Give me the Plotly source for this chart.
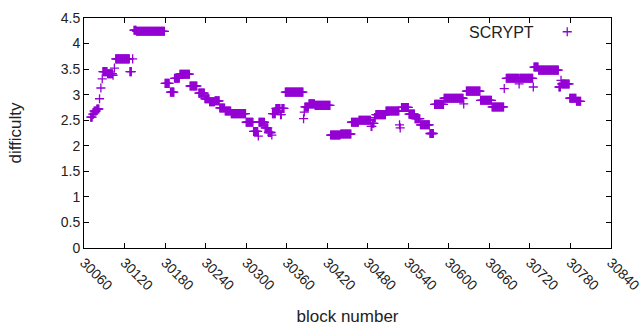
import plotly.graph_objects as go

# Runs of constant difficulty: first block, last block, difficulty
run_start = [30070, 30073, 30075, 30079, 30083, 30085, 30087, 30088, 30095, 30103,
             30105, 30107, 30128, 30132, 30134, 30138, 30180, 30188, 30194, 30202,
             30217, 30230, 30239, 30246, 30254, 30261, 30269, 30278, 30300, 30311,
             30318, 30319, 30328, 30333, 30338, 30339, 30344, 30351, 30353, 30358,
             30385, 30386, 30387, 30393, 30402, 30425, 30440, 30456, 30467, 30485,
             30487, 30490, 30492, 30507, 30527, 30528, 30530, 30541, 30550, 30558,
             30572, 30579, 30593, 30622, 30626, 30647, 30664, 30682, 30685, 30704,
             30705, 30725, 30726, 30733, 30763, 30766, 30767, 30779, 30789]
run_end = [30072, 30074, 30078, 30082, 30083, 30085, 30087, 30094, 30102, 30103,
           30105, 30127, 30130, 30132, 30137, 30179, 30186, 30193, 30201, 30216,
           30227, 30238, 30245, 30253, 30260, 30268, 30277, 30299, 30310, 30317,
           30318, 30327, 30332, 30337, 30338, 30343, 30350, 30352, 30356, 30384,
           30385, 30386, 30392, 30401, 30424, 30439, 30455, 30466, 30484, 30486,
           30489, 30491, 30506, 30526, 30527, 30528, 30540, 30549, 30557, 30571,
           30577, 30592, 30621, 30622, 30646, 30663, 30681, 30682, 30703, 30704,
           30724, 30725, 30732, 30762, 30765, 30766, 30778, 30788, 30795]
run_value = [2.56, 2.62, 2.68, 2.72, 2.92, 3.13, 3.31, 3.45, 3.41, 3.38,
             3.52, 3.70, 3.45, 3.70, 4.26, 4.24, 3.22, 3.05, 3.32, 3.40,
             3.17, 3.03, 2.92, 2.86, 2.88, 2.74, 2.68, 2.63, 2.46, 2.28,
             2.19, 2.46, 2.35, 2.26, 2.21, 2.63, 2.73, 2.61, 2.73, 3.05,
             2.53, 2.66, 2.76, 2.82, 2.79, 2.21, 2.23, 2.46, 2.50, 2.38,
             2.44, 2.55, 2.61, 2.68, 2.41, 2.35, 2.75, 2.62, 2.53, 2.41,
             2.24, 2.81, 2.93, 2.82, 3.07, 2.89, 2.76, 3.12, 3.32, 3.21,
             3.32, 3.15, 3.54, 3.48, 3.15, 3.28, 3.21, 2.93, 2.87]

x_ticks = list(range(30060, 30841, 60))
series_name = "SCRYPT"

blocks, diffs = [], []
for s, e, v in zip(run_start, run_end, run_value):
    for b in range(s, e + 1):
        blocks.append(b)
        diffs.append(v)

color = "#9400D3"
font = dict(family="Liberation Sans, Arial, sans-serif", size=14, color="#222222")

fig = go.Figure()
fig.add_trace(go.Scatter(
    x=blocks, y=diffs, mode="markers", name="",
    marker=dict(symbol="cross-thin", size=6.5, color=color,
                line=dict(color=color, width=1.3)),
    showlegend=True,
))

fig.update_layout(
    width=640, height=330,
    margin=dict(l=84, r=29, t=18, b=82),
    paper_bgcolor="white", plot_bgcolor="white",
    font=font,
    legend=dict(x=0.879, y=1.008, xanchor="left", yanchor="top",
                bgcolor="rgba(0,0,0,0)", borderwidth=0, font=font,
                itemwidth=30),
    annotations=[dict(text=series_name, xref="paper", yref="paper",
                      x=0.857, y=0.935, xanchor="right", yanchor="middle",
                      showarrow=False, font=dict(family=font["family"], size=16, color="#222222"))],
)
fig.update_xaxes(
    range=[30060, 30840.001], tickvals=x_ticks, ticktext=[str(t) for t in x_ticks],
    tickangle=45, ticks="inside", ticklen=5, tickcolor="black",
    showline=True, linecolor="black", linewidth=1, mirror="allticks",
    showgrid=False, zeroline=False, automargin=False, ticklabeloverflow="allow",
    title=dict(text="block number", standoff=17), tickfont=font,
)
fig.update_yaxes(
    range=[0, 4.5], dtick=0.5, tick0=0, ticks="inside", ticklen=5, tickcolor="black",
    showline=True, linecolor="black", linewidth=1, mirror="allticks",
    showgrid=False, zeroline=False, automargin=False, ticklabeloverflow="allow",
    title=dict(text="difficulty", standoff=34), tickfont=font,
)

fig.write_html("out.html", config={"displayModeBar": False},
               post_script="document.body.style.margin='0';document.body.style.overflow='hidden';")
